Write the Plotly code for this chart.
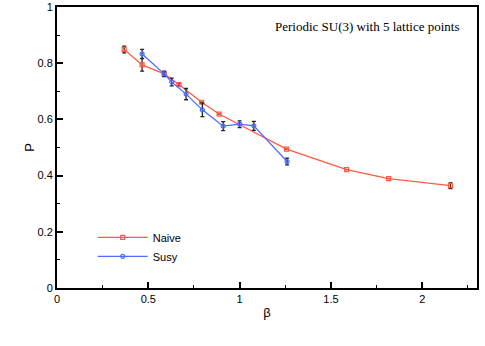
import plotly.graph_objects as go

# Naive discretisation (None = no visible error bar)
naive_beta = [0.368, 0.466, 0.587, 0.668, 0.792, 0.888, 1.257, 1.586, 1.816, 2.155]
naive_p = [0.849, 0.794, 0.762, 0.724, 0.661, 0.619, 0.494, 0.421, 0.389, 0.364]
naive_err = [0.012, 0.022, 0.008, 0.006, None, None, None, None, None, 0.010]

# Supersymmetric discretisation
susy_beta = [0.466, 0.587, 0.628, 0.707, 0.796, 0.910, 1.000, 1.078, 1.260]
susy_p = [0.833, 0.762, 0.733, 0.690, 0.634, 0.576, 0.583, 0.577, 0.450]
susy_err = [0.016, 0.010, 0.014, 0.020, 0.024, 0.016, 0.012, 0.016, 0.012]

RED = "#ff5a40"
BLUE = "#4a6cff"
ERR = "#222222"

fig = go.Figure()
fig.add_trace(go.Scatter(
    x=naive_beta, y=naive_p, name="Naive", mode="lines+markers",
    line=dict(color=RED, width=1.3),
    marker=dict(symbol="square-open", size=4, color=RED, line=dict(width=1.2)),
    error_y=dict(type="data", array=naive_err, color=ERR, thickness=1.3, width=2),
))
fig.add_trace(go.Scatter(
    x=susy_beta, y=susy_p, name="Susy", mode="lines+markers",
    line=dict(color=BLUE, width=1.3),
    marker=dict(symbol="circle-open", size=4, color=BLUE, line=dict(width=1.2)),
    error_y=dict(type="data", array=susy_err, color=ERR, thickness=1.3, width=2),
))

axis_common = dict(
    showline=True, linecolor="black", linewidth=2, mirror=True,
    ticks="inside", ticklen=6, tickwidth=1.5, tickcolor="black",
    showgrid=False, zeroline=False, automargin=False,
    tickfont=dict(family="Liberation Sans, Arial", size=11, color="black"),
    title_font=dict(family="Liberation Sans, Arial", size=13, color="black"),
)

fig.update_xaxes(
    range=[0, 2.3], tickvals=[0, 0.5, 1, 1.5, 2],
    ticktext=["0", "0.5", "1", "1.5", "2"],
    minor=dict(dtick=0.25, ticks="inside", ticklen=3, tickcolor="black", tickwidth=1),
    title_text="β", title_standoff=4, **axis_common,
)
fig.update_yaxes(
    range=[0, 1], tickvals=[0, 0.2, 0.4, 0.6, 0.8, 1],
    ticktext=["0", "0.2", "0.4", "0.6", "0.8", "1"],
    minor=dict(dtick=0.1, ticks="inside", ticklen=3, tickcolor="black", tickwidth=1),
    title_text="P", title_standoff=0, **axis_common,
)

fig.add_annotation(
    text="Periodic SU(3) with 5 lattice points", xref="paper", yref="paper",
    x=0.965, y=0.93, xanchor="right", yanchor="middle", showarrow=False,
    font=dict(family="Liberation Serif, Times New Roman", size=13, color="black"),
)

fig.update_layout(
    width=485, height=346,
    margin=dict(l=57, r=8, t=7, b=58),
    paper_bgcolor="white", plot_bgcolor="white",
    showlegend=True,
    legend=dict(
        x=0.085, y=0.232, xanchor="left", yanchor="top",
        bgcolor="rgba(0,0,0,0)", tracegroupgap=6,
        font=dict(family="Liberation Sans, Arial", size=11, color="black"),
        itemwidth=50,
    ),
)

fig.write_html("out.html", config={"displayModeBar": False},
               post_script="document.body.style.margin='0';")
